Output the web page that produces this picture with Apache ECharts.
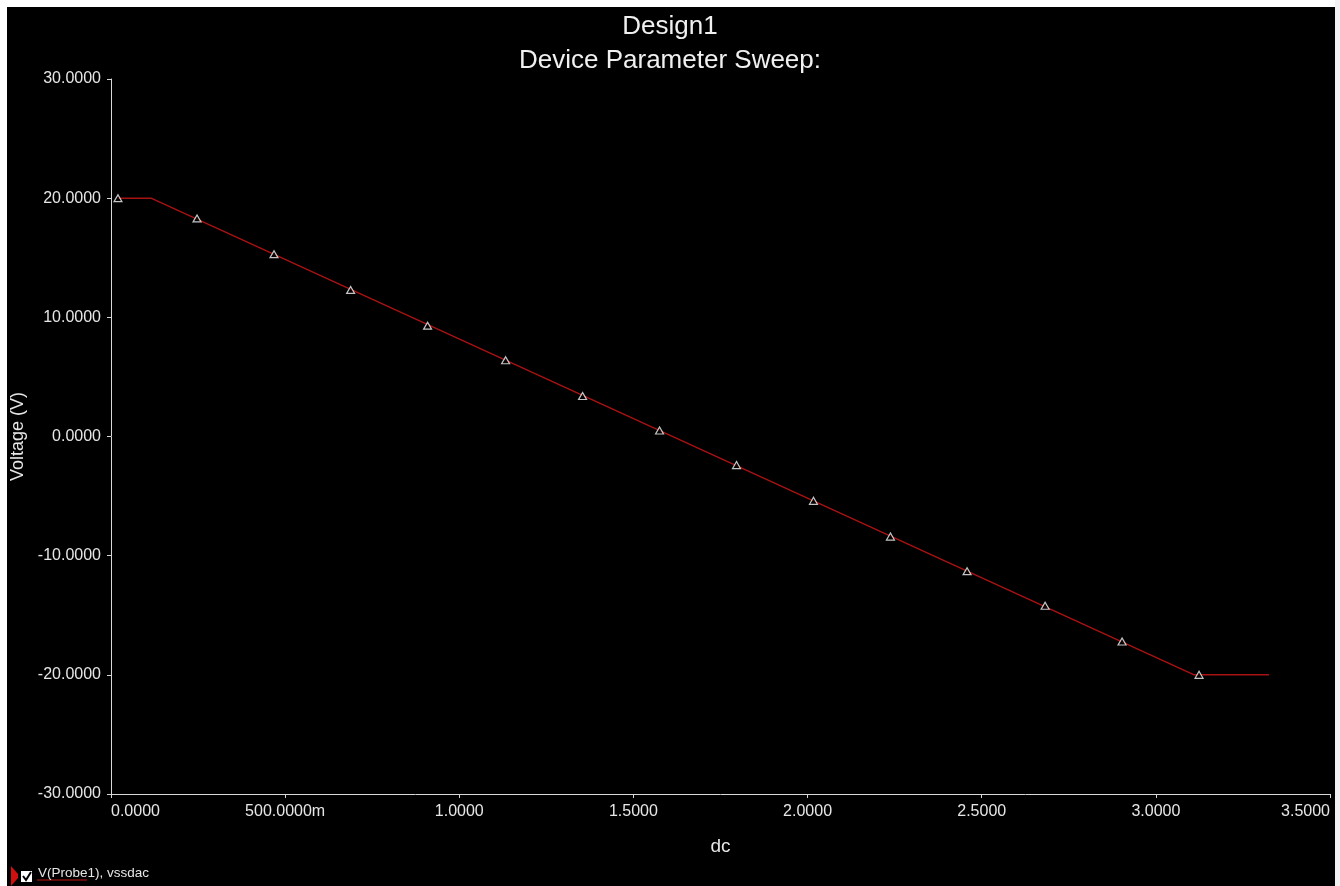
<!DOCTYPE html>
<html>
<head>
<meta charset="utf-8">
<style>html,body{margin:0;padding:0;background:#000;}#c{width:1340px;height:886px;}</style>
<script src="https://cdn.jsdelivr.net/npm/echarts@6/dist/echarts.min.js"></script>
</head>
<body>
<div id="c"></div>
<script>
// ---- data ----
var titleLines = ['Design1', 'Device Parameter Sweep:'];
var seriesName = 'V(Probe1), vssdac';
var xTicks = [0, 0.5, 1.0, 1.5, 2.0, 2.5, 3.0, 3.5];
var yTicks = [-30, -20, -10, 0, 10, 20, 30];
// trace breakpoints (dc, V)
var traceX = [0.02, 0.115, 3.11, 3.325];
var traceY = [20.0, 20.0, -20.0, -20.0];
// marker positions (dc, V)
var markerX = [0.02, 0.247, 0.468, 0.688, 0.909, 1.133, 1.354, 1.575, 1.796, 2.017, 2.238, 2.458, 2.682, 2.903, 3.124];
var markerY = [20.0, 18.3, 15.3, 12.3, 9.3, 6.4, 3.4, 0.5, -2.4, -5.4, -8.4, -11.3, -14.2, -17.2, -20.0];

var tracePts = traceX.map(function (x, i) { return [x, traceY[i]]; });
var markerPts = markerX.map(function (x, i) { return [x, markerY[i]]; });

function fmtX(v) {
  if (Math.abs(v) > 0 && Math.abs(v) < 1) return (v * 1000).toFixed(4) + 'm';
  return v.toFixed(4);
}
function fmtY(v) { return v.toFixed(4); }

var chart = echarts.init(document.getElementById('c'), null, {renderer: 'canvas'});
var labelColor = '#e6e6e6';
var font = 'Liberation Sans, Arial, sans-serif';
chart.setOption({
  backgroundColor: '#000',
  animation: false,
  title: {
    text: titleLines.join('\n'),
    left: 'center',
    top: 5,
    textStyle: {color: '#f0f0f0', fontSize: 26, fontWeight: 'normal', fontFamily: font, lineHeight: 34}
  },
  grid: {left: 111, top: 79, right: 10, bottom: 92, containLabel: false, outerBoundsMode: 'none'},
  legend: {
    data: [seriesName],
    left: 33, top: 861,
    itemWidth: 0, itemHeight: 0, itemGap: 0,
    icon: 'rect',
    textStyle: {color: '#e6e6e6', fontSize: 13.5, fontFamily: font, padding: [0, 0, 0, -5]}
  },
  xAxis: {
    type: 'value', min: xTicks[0], max: xTicks[xTicks.length - 1], interval: 0.5,
    name: 'dc', nameLocation: 'middle', nameGap: 43,
    nameTextStyle: {color: labelColor, fontSize: 19, fontFamily: font},
    axisLine: {show: true, onZero: false, lineStyle: {color: '#d8d8d8', width: 1}},
    axisTick: {show: true, length: 4, lineStyle: {color: '#d8d8d8'}},
    splitLine: {show: false},
    axisLabel: {color: labelColor, fontSize: 16, fontFamily: font, margin: 10, formatter: fmtX,
      alignMinLabel: 'left', alignMaxLabel: 'right'}
  },
  yAxis: {
    type: 'value', min: yTicks[0], max: yTicks[yTicks.length - 1], interval: 10,
    name: 'Voltage (V)', nameLocation: 'middle', nameGap: 78, nameRotate: 90,
    nameTextStyle: {color: labelColor, fontSize: 18, fontFamily: font},
    axisLine: {show: true, onZero: false, lineStyle: {color: '#d8d8d8', width: 1}},
    axisTick: {show: true, length: 4, lineStyle: {color: '#d8d8d8'}},
    splitLine: {show: false},
    axisLabel: {color: labelColor, fontSize: 16, fontFamily: font, margin: 10, formatter: fmtY}
  },
  series: [
    {
      name: seriesName, type: 'line', data: tracePts, showSymbol: false, symbol: 'none',
      lineStyle: {color: '#a81212', width: 1.5}, itemStyle: {color: '#a81212'}, z: 2
    },
    {
      name: 'markers', type: 'scatter', data: markerPts, symbol: 'triangle', symbolSize: [8, 7],
      itemStyle: {color: '#000', borderColor: '#f4f4f4', borderWidth: 1.2}, z: 3
    }
  ],
  graphic: [
    {type: 'rect', shape: {x: 0, y: 0, width: 1340, height: 7}, style: {fill: '#fff'}},
    {type: 'rect', shape: {x: 0, y: 0, width: 7, height: 886}, style: {fill: '#fff'}},
    {type: 'rect', shape: {x: 1335, y: 0, width: 5, height: 886}, style: {fill: '#f2f2f2'}},
    {type: 'polygon', shape: {points: [[11, 866], [18, 874], [18, 878], [11, 886]]}, style: {fill: '#d01010'}},
    {type: 'rect', shape: {x: 21, y: 871, width: 11, height: 11}, style: {fill: '#fff'}},
    {type: 'polyline', shape: {points: [[23, 876], [26, 880], [31, 872]]}, style: {stroke: '#000', lineWidth: 2, fill: null}},
    {type: 'line', shape: {x1: 37, y1: 880, x2: 87, y2: 880}, style: {stroke: '#c01515', lineWidth: 1}}
  ]
});
</script>
</body>
</html>
